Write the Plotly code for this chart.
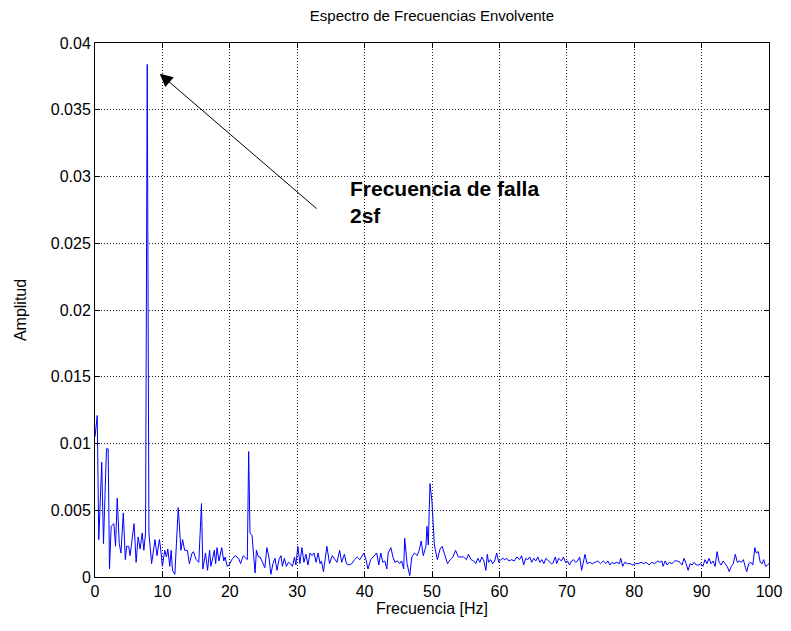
import plotly.graph_objects as go

freq = [0, 0.33, 0.56, 1.0, 1.26, 1.7, 1.95, 2.15, 2.4, 2.8, 3.05, 3.3, 3.6, 3.85, 4.2, 4.5, 4.7, 5.0, 5.2, 5.5,
        5.8, 6.1, 6.4, 6.7, 7.0, 7.25, 7.5, 7.75, 8.0, 8.4, 8.9, 9.2, 9.55, 9.7, 10.0, 10.35, 10.6, 10.8, 11.1, 11.3,
        11.5, 11.85, 12.35, 12.75, 13.0, 13.3, 13.7, 14.0, 14.4, 14.6, 15.0, 15.4, 15.8, 16.0, 16.4, 16.7, 17.0, 17.2, 17.45, 17.7,
        17.9, 18.1, 18.4, 18.8, 19.1, 19.3, 19.6, 19.9, 20.3, 20.8, 21.3, 21.6, 22.0, 22.4, 22.6, 22.8, 23.0, 23.3, 23.75, 23.95,
        24.25, 24.5, 24.8, 25.2, 25.5, 25.8, 26.1, 26.4, 26.7, 27.0, 27.3, 27.6, 27.8, 28.1, 28.4, 28.7, 29.0, 29.3, 29.6, 29.8,
        30.1, 30.4, 30.7, 31.0, 31.3, 31.6, 31.9, 32.2, 32.5, 32.8, 33.1, 33.4, 33.6, 33.9, 34.4, 34.8, 35.2, 35.6, 35.9, 36.3,
        36.6, 37.0, 37.3, 37.7, 38.1, 38.5, 38.9, 39.3, 39.6, 39.9, 40.2, 40.5, 40.9, 41.3, 41.8, 42.1, 42.4, 42.7, 43.0, 43.3,
        43.5, 43.9, 44.2, 44.5, 44.9, 45.2, 45.5, 45.8, 45.95, 46.3, 46.7, 47.0, 47.4, 47.8, 48.1, 48.4, 48.7, 49.1, 49.25, 49.45,
        49.7, 50.0, 50.35, 50.8, 51.2, 51.5, 51.9, 52.3, 52.7, 53.1, 53.5, 53.9, 54.3, 54.7, 55.1, 55.4, 55.8, 56.2, 56.5, 56.8,
        57.1, 57.4, 57.7, 58.0, 58.2, 58.4, 58.7, 59.0, 59.3, 59.6, 59.9, 60.2, 60.5, 60.8, 61.1, 61.4, 61.8, 62.2, 62.6, 63.0,
        63.3, 63.6, 63.9, 64.2, 64.5, 64.8, 65.1, 65.4, 65.7, 66.0, 66.3, 66.6, 66.9, 67.3, 67.7, 67.9, 68.3, 68.5, 68.8, 69.2,
        69.5, 69.8, 70.1, 70.4, 70.7, 71.0, 71.3, 71.6, 71.9, 72.2, 72.5, 72.7, 73.0, 73.4, 73.8, 74.2, 74.6, 75.0, 75.4, 75.8,
        76.1, 76.4, 76.7, 77.0, 77.4, 77.8, 78.0, 78.3, 78.6, 79.0, 79.4, 79.8, 80.2, 80.6, 81.0, 81.4, 81.8, 82.2, 82.6, 83.0,
        83.5, 83.8, 84.1, 84.3, 84.6, 84.9, 85.2, 85.6, 86.0, 86.4, 86.8, 87.1, 87.4, 87.7, 88.0, 88.3, 88.6, 88.9, 89.2, 89.6,
        89.9, 90.2, 90.5, 90.8, 91.1, 91.4, 91.7, 92.0, 92.3, 92.6, 92.9, 93.2, 93.5, 93.8, 94.1, 94.4, 94.7, 95.0, 95.3, 95.6,
        95.9, 96.2, 96.5, 96.7, 97.0, 97.3, 97.6, 97.9, 98.1, 98.4, 98.7, 99.0, 99.2, 99.5, 99.8, 100]

amp_milli = [10.5, 12.1, 2.8, 8.6, 2.5, 9.6, 9.6, 0.6, 3.8, 4.0, 2.3, 5.9, 2.5, 1.8, 4.8, 1.3, 2.3, 2.3, 1.6, 2.7,
             4.0, 1.1, 3.0, 2.1, 3.3, 2.0, 3.3, 38.4, 3.3, 1.0, 2.8, 1.6, 2.8, 2.3, 0.8, 2.0, 1.5, 2.1, 0.8, 2.0,
             0.5, 0.2, 5.2, 2.0, 2.8, 2.0, 2.0, 1.0, 1.8, 1.9, 1.3, 1.1, 5.5, 0.6, 1.8, 0.5, 2.0, 0.8, 1.5, 2.0,
             1.0, 2.2, 1.2, 2.2, 1.2, 1.5, 0.8, 0.9, 1.3, 1.6, 1.4, 1.0, 1.6, 1.4, 1.3, 9.4, 3.3, 3.1, 0.3, 2.0,
             1.5, 1.5, 1.1, 0.7, 2.2, 1.5, 0.2, 1.0, 1.4, 0.5, 1.3, 1.6, 0.8, 1.4, 0.8, 1.1, 1.0, 0.8, 1.5, 0.9,
             2.3, 1.0, 2.2, 1.1, 1.7, 0.9, 1.8, 1.6, 1.8, 1.1, 1.8, 1.0, 1.2, 0.4, 2.3, 1.0, 1.6, 1.3, 1.1, 2.0,
             1.1, 1.7, 1.0, 0.9, 1.0, 1.3, 1.5, 1.3, 1.6, 1.8, 1.3, 0.6, 1.3, 1.5, 1.8, 0.9, 1.8, 1.1, 1.2, 0.6,
             1.8, 2.2, 1.5, 1.1, 1.2, 1.0, 1.2, 0.6, 2.9, 1.0, 0.1, 1.5, 1.8, 1.6, 2.0, 2.7, 1.6, 2.3, 3.8, 2.4,
             7.0, 5.6, 2.4, 1.3, 2.1, 2.3, 1.7, 1.0, 1.3, 1.5, 2.0, 1.5, 1.5, 1.5, 1.3, 1.7, 1.3, 1.2, 1.0, 1.4,
             1.1, 1.5, 1.2, 0.5, 1.7, 1.1, 1.3, 1.0, 1.2, 1.8, 1.1, 1.3, 1.4, 1.3, 1.4, 1.2, 1.3, 1.2, 1.5, 1.3,
             1.6, 0.9, 1.4, 1.3, 1.5, 1.1, 1.4, 1.2, 1.5, 1.1, 1.3, 1.0, 1.4, 1.2, 1.0, 1.0, 1.5, 1.0, 1.4, 1.2,
             1.5, 1.1, 1.2, 0.9, 1.2, 1.3, 1.1, 1.2, 1.5, 0.5, 1.4, 1.7, 1.0, 1.1, 1.0, 1.1, 1.2, 1.0, 1.2, 1.0,
             1.2, 0.9, 1.1, 1.0, 1.1, 1.0, 1.4, 0.8, 1.1, 1.0, 1.0, 0.9, 1.0, 1.0, 1.1, 1.0, 1.1, 0.9, 1.1, 1.0,
             1.2, 1.1, 1.2, 0.8, 1.2, 0.9, 1.1, 1.0, 1.2, 1.2, 1.1, 0.9, 1.4, 1.0, 0.5, 1.0, 0.9, 1.1, 0.9, 0.9,
             1.0, 0.8, 1.3, 1.0, 1.4, 1.0, 1.2, 0.8, 1.9, 1.1, 0.9, 1.2, 1.0, 0.8, 0.4, 0.8, 1.0, 1.7, 1.1, 1.2,
             1.1, 1.3, 0.7, 0.4, 1.0, 1.1, 0.9, 2.2, 1.8, 1.9, 1.1, 1.0, 1.3, 0.8, 0.9, 1.0]

amp = [a / 1000 for a in amp_milli]

FONT = "Liberation Sans, Arial, sans-serif"

fig = go.Figure()
fig.add_trace(go.Scatter(x=freq, y=amp, mode="lines",
                         line=dict(color="#0000ff", width=1), showlegend=False))

# flecha hacia el pico de falla
fig.add_annotation(x=9.6, y=0.0377, ax=33.1, ay=0.0275, xref="x", yref="y", axref="x", ayref="y",
                   text="", showarrow=True, arrowhead=2, arrowsize=2.6, arrowwidth=1, arrowcolor="black")
fig.add_annotation(x=37.6, y=0.0301, xref="x", yref="y", xanchor="left", yanchor="top", align="left",
                   text="<b>Frecuencia de falla<br>2sf</b>", showarrow=False,
                   font=dict(family=FONT, size=21, color="black"))

axis_common = dict(showline=True, linecolor="black", linewidth=1, mirror="ticks",
                   ticks="inside", ticklen=5, tickcolor="black",
                   showgrid=True, gridcolor="#222222", gridwidth=1, griddash="1px,2px",
                   zeroline=False, tickfont=dict(family=FONT, size=16, color="black"))

fig.update_xaxes(range=[0, 100], dtick=10, tick0=0,
                 title=dict(text="Frecuencia [Hz]", font=dict(family=FONT, size=16, color="black"), standoff=2),
                 **axis_common)
fig.update_yaxes(range=[0, 0.04], dtick=0.005, tick0=0,
                 title=dict(text="Amplitud", font=dict(family=FONT, size=16, color="black"), standoff=20),
                 **axis_common)

# la pagina deja 8 px de margen en el body: se compensa aqui
fig.update_layout(
    width=791, height=631,
    margin=dict(l=87, r=30, t=35, b=62, autoexpand=False),
    paper_bgcolor="white", plot_bgcolor="white",
    title=dict(text="Espectro de Frecuencias Envolvente", x=0.536, xanchor="center",
               y=0.988, yanchor="middle", font=dict(family=FONT, size=15, color="black")),
)

fig.write_html("out.html")
